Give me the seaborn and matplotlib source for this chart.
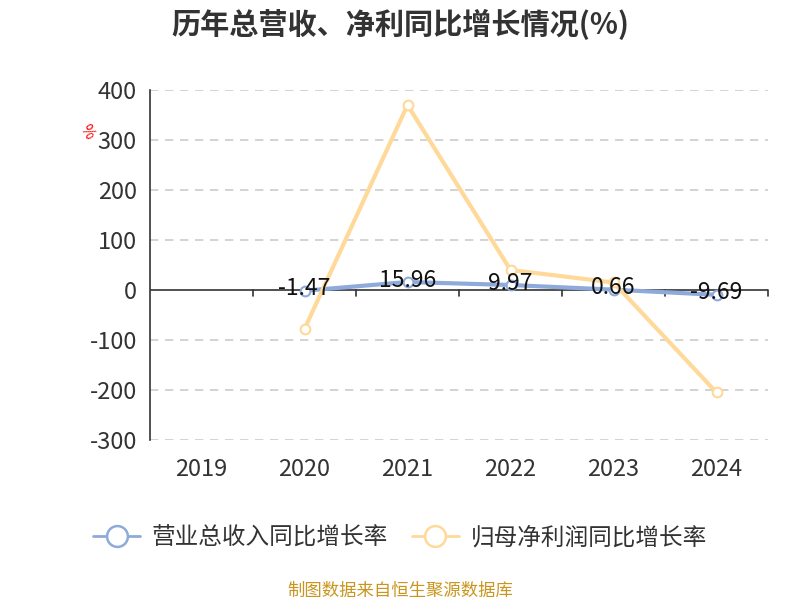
import numpy as np
import pandas as pd
import matplotlib.pyplot as plt
import seaborn as sns
from matplotlib.lines import Line2D

years = ['2019', '2020', '2021', '2022', '2023', '2024']
revenue_growth = [np.nan, -1.47, 15.96, 9.97, 0.66, -9.69]
profit_growth = [np.nan, -78.0, 370.0, 40.0, 15.0, -205.0]
series_names = ['营业总收入同比增长率', '归母净利润同比增长率']
colors = ['#8eaadb', '#ffd99a']

sns.set_theme(style='white')
plt.rcParams['font.family'] = ['Noto Sans CJK SC', 'DejaVu Sans']
plt.rcParams['axes.unicode_minus'] = False

df = pd.DataFrame({
    'pos': list(range(len(years))) * 2,
    'value': revenue_growth + profit_growth,
    'series': [series_names[0]] * len(years) + [series_names[1]] * len(years),
})
palette = dict(zip(series_names, colors))

fig = plt.figure(figsize=(8, 6), dpi=100)
ax = fig.add_axes([0.1875, 0.2667, 0.7725, 0.5833])

# dashed grid
for y in range(-300, 500, 100):
    if y != 0:
        ax.axhline(y, color='#cccccc', lw=1.2, ls=(0, (5, 4)), zorder=0)

sns.lineplot(data=df.dropna(), x='pos', y='value', hue='series',
             palette=palette, hue_order=series_names, lw=3,
             marker='o', markersize=7, markerfacecolor='white',
             markeredgewidth=1.5, ax=ax, legend=False, zorder=3)
for line, c in zip(ax.lines[-2:], colors):
    line.set_markeredgecolor(c)

for i, v in enumerate(revenue_growth):
    if not np.isnan(v):
        ax.text(i, v + 4, f'{v:.2f}', ha='center', va='center',
                fontsize=16.5, color='#111111', zorder=5)

ax.set_xlim(-0.5, 5.5)
ax.set_ylim(-300, 400)
ax.set_yticks(range(-300, 500, 100))
ax.set_xticks(range(len(years)))
ax.set_xticklabels(years)
ax.tick_params(axis='y', labelsize=17, colors='#333333', length=6, width=1.2)
ax.tick_params(axis='x', labelsize=17, colors='#333333', length=0, pad=13)
for t in ax.get_yticklabels() + ax.get_xticklabels():
    t.set_color('#333333')

for s in ['top', 'right', 'bottom']:
    ax.spines[s].set_visible(False)
ax.spines['left'].set_color('#333333')
ax.spines['left'].set_linewidth(1.2)
ax.axhline(0, color='#333333', lw=1.2, zorder=2)
for b in np.arange(0.5, 6.0, 1.0):
    ax.plot([b, b], [0, -12], color='#333333', lw=1.2, clip_on=False, zorder=2)
ax.set_xlabel('')
ax.set_ylabel('')

fig.text(0.108, 0.78, '%', color='red', fontsize=11, rotation=-60,
         ha='center', va='center')

fig.suptitle('历年总营收、净利同比增长情况(%)', x=0.5, y=0.985,
             fontsize=21, fontweight='bold', color='#333333')

# legend
handles = [Line2D([0], [0], color=c, lw=2, marker='o', markersize=15,
                  markerfacecolor='white', markeredgewidth=1.8)
           for c in colors]
fig.legend(handles, series_names, loc='center', bbox_to_anchor=(0.5, 0.103),
           ncol=2, frameon=False, fontsize=17, handlelength=2.0,
           handletextpad=0.5, columnspacing=1.0, labelcolor='#333333')

fig.text(0.5, 0.0, '制图数据来自恒生聚源数据库', ha='center', va='bottom',
         fontsize=12.5, color='#c8961e')

fig.savefig('out.png', dpi=100)
